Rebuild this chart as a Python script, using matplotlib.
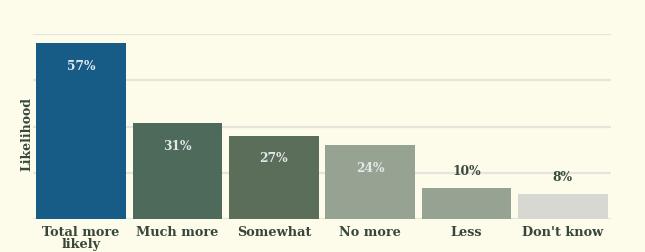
import matplotlib
matplotlib.use("Agg")
import matplotlib.pyplot as plt

categories = ["Total more\nlikely", "Much more", "Somewhat", "No more", "Less", "Don't know"]
values = [57, 31, 27, 24, 10, 8]
labels = ["57%", "31%", "27%", "24%", "10%", "8%"]
colors = ["#175c87", "#4e6a5a", "#5a6e5a", "#97a392", "#97a392", "#d6d8d1"]
inside = [True, True, True, True, False, False]

bg = "#fdfbea"
txt = "#37473c"
plt.rcParams['font.family'] = ['DejaVu Serif']

fig = plt.figure(figsize=(6.45, 2.52), dpi=100, facecolor=bg)
ax = fig.add_axes([33/645, 1-219/252, (611-33)/645, (219-34)/252])
ax.set_facecolor(bg)

x = range(len(values))
ax.bar(x, values, width=0.93, color=colors, zorder=3)
ax.set_xlim(-0.5, 5.5)
ax.set_ylim(0, 60)
ax.set_yticks([0, 15, 30, 45, 60])
ax.yaxis.grid(True, color="#e4e6dc", linewidth=1.6, zorder=0)
ax.set_yticklabels([])
ax.tick_params(axis='y', length=0, pad=0)
ax.tick_params(axis='x', length=0, pad=5)
ax.set_xticks(list(x))
ax.set_xticklabels(categories, fontsize=9.3, fontweight='bold', color=txt, linespacing=0.9, va='top')
for s in ax.spines.values():
    s.set_visible(False)

for i, (v, lab, ins) in enumerate(zip(values, labels, inside)):
    if ins:
        ax.text(i, v - 7.5, lab, ha='center', va='center', fontsize=8.8, fontweight='bold', color="#e2e8ea", zorder=4)
    else:
        ax.text(i, v + 5.5, lab, ha='center', va='center', fontsize=8.8, fontweight='bold', color=txt, zorder=4)

ax.set_ylabel("Likelihood", fontsize=9, fontweight='bold', color=txt, va='center')
ax.yaxis.set_label_coords(-0.011, 0.46)

fig.savefig("out.png", dpi=100, facecolor=bg)
